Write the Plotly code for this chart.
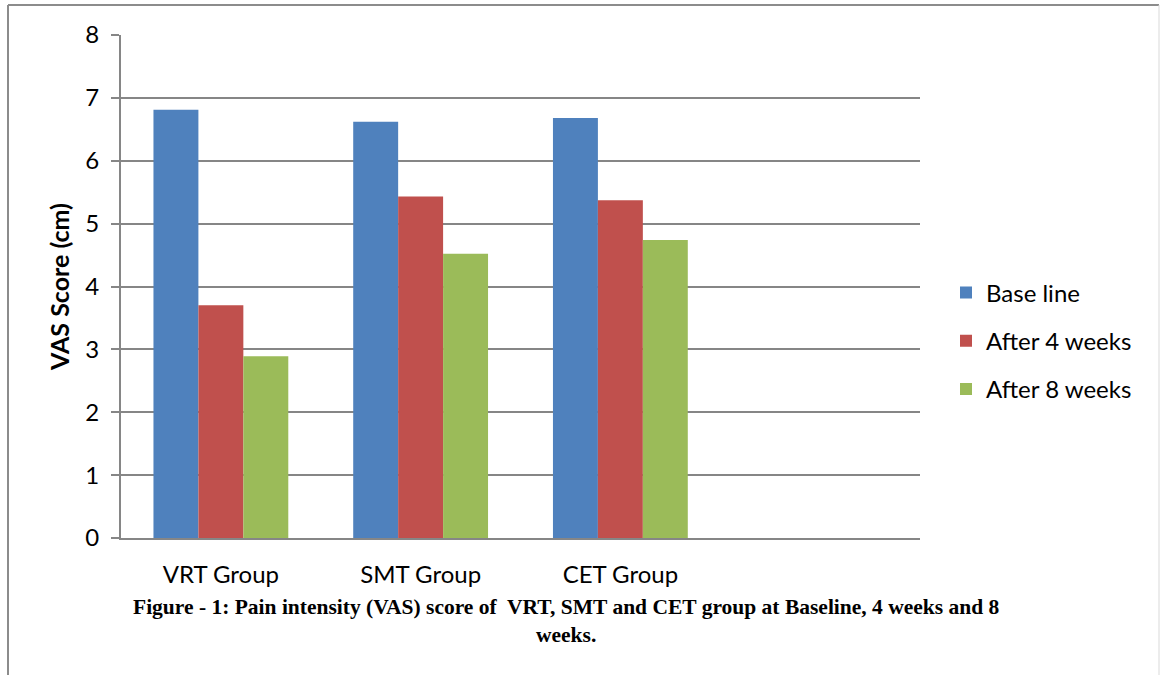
import plotly.graph_objects as go

categories = ["VRT Group", "SMT Group", "CET Group"]
series_names = ["Base line", "After 4 weeks", "After 8 weeks"]
baseline = [6.81, 6.62, 6.68]
after4 = [3.70, 5.43, 5.37]
after8 = [2.89, 4.52, 4.74]
colors = ["#4F81BD", "#C0504D", "#9BBB59"]
y_ticks = [0, 1, 2, 3, 4, 5, 6, 7, 8]

W, H = 1160, 675
L, R, T, B = 121, 240, 35, 137
pw, ph = W - L - R, H - T - B

def px(x):
    return (x - L) / pw

def py(y):
    return (H - B - y) / ph

fig = go.Figure()
for i, (name, vals) in enumerate(zip(series_names, [baseline, after4, after8])):
    fig.add_trace(go.Bar(
        x=categories, y=vals, name=name, legendgroup=f"g{i}",
        marker=dict(color=colors[i], line=dict(width=0)),
    ))

fig.update_layout(
    width=W, height=H,
    margin=dict(l=L, r=R, t=T, b=B, autoexpand=False),
    paper_bgcolor="white", plot_bgcolor="white",
    barmode="group", bargap=0.325, bargroupgap=0,
    font=dict(family="Lato, Open Sans, sans-serif", size=24, color="black"),
    showlegend=True,
    legend=dict(x=px(946), y=py(341), xanchor="left", yanchor="middle",
                font=dict(size=24), tracegroupgap=14, itemwidth=30,
                bgcolor="rgba(0,0,0,0)"),
    xaxis=dict(type="category", categoryarray=categories + [" "], range=[-0.5, 3.5],
               showgrid=False, showline=True, linecolor="#868686", linewidth=2,
               ticks="", ticklabelstandoff=14, tickfont=dict(size=24)),
    yaxis=dict(range=[0, 8], tickvals=y_ticks, showgrid=True, gridcolor="#868686",
               gridwidth=1.5, showline=True, linecolor="#868686", linewidth=2,
               ticks="outside", ticklen=8, tickcolor="#868686", tickwidth=1.5,
               ticklabelstandoff=7, tickfont=dict(size=24), zeroline=False,
               title=dict(text="<b>VAS Score (cm)</b>", font=dict(size=25), standoff=9)),
    annotations=[dict(
        text="<b>Figure - 1: Pain intensity (VAS) score of  VRT, SMT and CET group at Baseline, 4 weeks and 8</b><br><b>weeks.</b>",
        xref="paper", yref="paper", x=px(566), y=py(621), xanchor="center", yanchor="middle",
        showarrow=False, align="center",
        font=dict(family="Liberation Serif, Times New Roman, serif", size=21.5, color="black"),
    )],
    shapes=[
        dict(type="line", xref="paper", yref="paper", x0=px(8), x1=px(1159), y0=py(5), y1=py(5),
             line=dict(color="#8c8c8c", width=2)),
        dict(type="line", xref="paper", yref="paper", x0=px(8), x1=px(8), y0=py(5), y1=py(675),
             line=dict(color="#8c8c8c", width=2)),
        dict(type="line", xref="paper", yref="paper", x0=px(1159), x1=px(1159), y0=py(5), y1=py(675),
             line=dict(color="#d9d9d9", width=1)),
    ],
)

fig.write_html("out.html", config={"displayModeBar": False},
               post_script="document.body.style.margin='0';")
